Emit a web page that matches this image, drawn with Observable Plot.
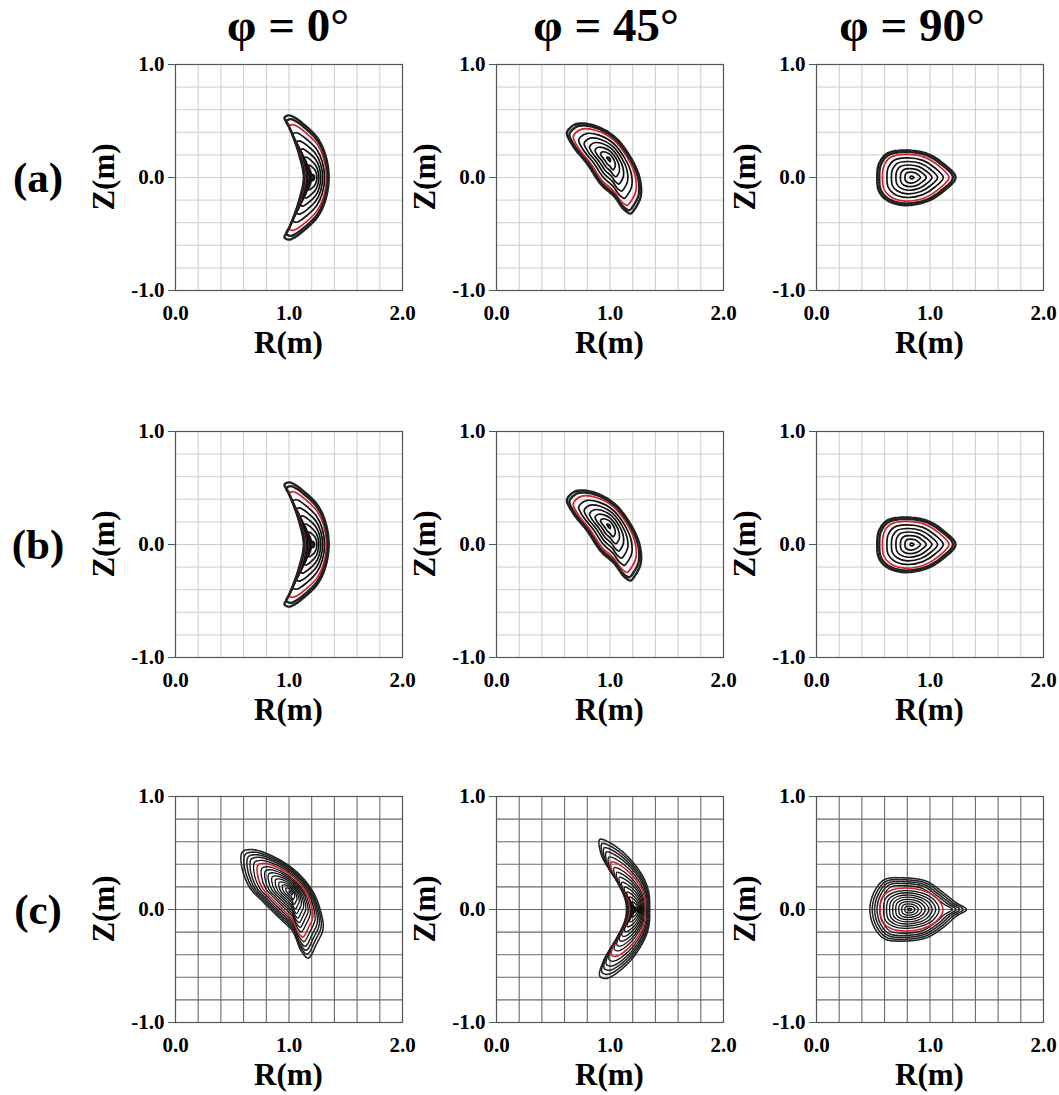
<!DOCTYPE html>
<html><head><meta charset="utf-8">
<script src="https://cdn.jsdelivr.net/npm/d3@7"></script>
<script src="https://cdn.jsdelivr.net/npm/@observablehq/plot@0.6"></script>
<style>
body{margin:0;background:#fff;}
#fig{position:relative;width:1059px;height:1095px;background:#fff;font-family:"Liberation Serif","Times New Roman",serif;font-weight:bold;color:#000;overflow:hidden}
.lbl{position:absolute;white-space:nowrap;line-height:1;transform:translate(-50%,-50%)}
.pn{position:absolute}
</style></head><body><div id="fig"></div>
<script>
// ---------- text ----------
const columnTitles = ["φ = 0°", "φ = 45°", "φ = 90°"];
const rowLabels = ["(a)", "(b)", "(c)"];
const xLabel = "R(m)";
const yLabel = "Z(m)";
const xTicks = [0, 1, 2];
const yTicks = [-1, 0, 1];
const gridR = [0.2, 0.4, 0.6, 0.8, 1.0, 1.2, 1.4, 1.6, 1.8];
const gridZ = [-0.8, -0.6, -0.4, -0.2, 0, 0.2, 0.4, 0.6, 0.8];

// ---------- last closed surfaces, rows (a)/(b) ----------
const ab0R = [0.96, 1.00, 1.05, 1.13, 1.25, 1.32, 1.35, 1.32, 1.25, 1.13, 1.05, 1.00, 0.96, 0.99, 1.04, 1.09, 1.13, 1.09, 1.04, 0.99];
const ab0Z = [0.53, 0.55, 0.53, 0.47, 0.35, 0.20, 0.00, -0.20, -0.35, -0.47, -0.53, -0.55, -0.53, -0.47, -0.35, -0.20, 0.00, 0.20, 0.35, 0.47];
const ab0Axis = [1.22, 0.0];

const ab1R = [0.64, 0.71, 0.86, 1.04, 1.18, 1.26, 1.27, 1.21, 1.18, 1.12, 1.04, 0.92, 0.80, 0.68, 0.62];
const ab1Z = [0.43, 0.475, 0.46, 0.36, 0.18, 0.00, -0.17, -0.29, -0.32, -0.28, -0.17, -0.06, 0.12, 0.27, 0.39];
const ab1Axis = [0.99, 0.165];

const ab2R = [0.535, 0.55, 0.62, 0.77, 0.975, 1.12, 1.225, 1.12, 0.975, 0.77, 0.62, 0.55];
const ab2Z = [0.00, 0.12, 0.21, 0.24, 0.21, 0.12, 0.00, -0.12, -0.21, -0.245, -0.20, -0.12];
const ab2Axis = [0.84, 0.0];

// ---------- row (c) ----------
const c0R = [0.59, 0.68, 0.86, 1.06, 1.21, 1.28, 1.30, 1.24, 1.17, 1.11, 1.03, 0.92, 0.77, 0.65, 0.58];
const c0Z = [0.51, 0.53, 0.47, 0.34, 0.16, -0.02, -0.17, -0.31, -0.43, -0.37, -0.19, -0.08, 0.07, 0.20, 0.40];
const c0Axis = [1.02, 0.15];

const c1R = [0.91, 1.00, 1.145, 1.28, 1.34, 1.35, 1.34, 1.28, 1.145, 0.97, 0.91, 0.94, 1.06, 1.13, 1.145, 1.13, 1.06, 0.925];
const c1Z = [0.62, 0.59, 0.48, 0.31, 0.16, 0.00, -0.16, -0.31, -0.49, -0.61, -0.59, -0.46, -0.25, -0.10, 0.00, 0.10, 0.25, 0.48];
const c1Axis = [1.23, 0.0];

const c2R = [0.47, 0.51, 0.60, 0.76, 0.97, 1.115, 1.23, 1.32, 1.23, 1.115, 0.97, 0.76, 0.60, 0.51];
const c2Z = [0.00, 0.16, 0.265, 0.28, 0.25, 0.15, 0.06, 0.00, -0.06, -0.16, -0.25, -0.28, -0.26, -0.16];
const c2Axis = [0.82, 0.0];
// red (core) surface of panel (c) φ=90°, which is rounder than its pointed edge
const c2CoreR = [0.56, 0.58, 0.66, 0.78, 0.93, 1.05, 1.115, 1.05, 0.93, 0.78, 0.66, 0.58];
const c2CoreZ = [0.00, 0.11, 0.17, 0.19, 0.17, 0.11, 0.00, -0.11, -0.17, -0.19, -0.17, -0.11];

// flux-surface levels (fraction of the last closed surface)
const levelsAB = [0.05, 0.2, 0.33, 0.46, 0.59, 0.72, 0.85, 0.94, 1.0];
const redLevelAB = 0.85;
const edgeFromAB = 0.94;
const levelsC = [0.04, 0.11, 0.18, 0.25, 0.32, 0.39, 0.46, 0.53, 0.6, 0.68, 0.75, 0.82, 0.88, 0.94, 1.0];
const redLevelC = 0.68;
const edgeFromC = 0.82;

// ---------- layout ----------
const plotLefts = [175, 496, 816];
const plotTops = [64, 431, 796];
const PW = 227, PH = 226;
const ML = 60, MR = 20, MT = 15, MB = 40;

const shapes = [
  [[ab0R, ab0Z, ab0Axis], [ab1R, ab1Z, ab1Axis], [ab2R, ab2Z, ab2Axis]],
  [[ab0R, ab0Z, ab0Axis], [ab1R, ab1Z, ab1Axis], [ab2R, ab2Z, ab2Axis]],
  [[c0R, c0Z, c0Axis], [c1R, c1Z, c1Axis], [c2R, c2Z, c2Axis, c2CoreR, c2CoreZ]]
];

const fig = document.getElementById("fig");
function label(text, x, y, size, rot) {
  const d = document.createElement("div");
  d.className = "lbl";
  d.textContent = text;
  d.style.left = x + "px";
  d.style.top = y + "px";
  d.style.fontSize = size + "px";
  if (rot) d.style.transform = "translate(-50%,-50%) rotate(-90deg)";
  fig.appendChild(d);
}

const fmt = d => d.toFixed(1);

function makePanel(shape, dark) {
  const [bR, bZ, ax, coreR, coreZ] = shape;
  const levels = dark ? levelsC : levelsAB;
  const red = dark ? redLevelC : redLevelAB;
  const edgeFrom = dark ? edgeFromC : edgeFromAB;
  const pts = [];
  levels.forEach(s => {
    if (coreR && s <= red) {
      const k = s / red;
      coreR.forEach((r, j) => pts.push({R: ax[0] + k * (r - ax[0]), Z: ax[1] + k * (coreZ[j] - ax[1]), level: s}));
    } else {
      bR.forEach((r, j) => pts.push({R: ax[0] + s * (r - ax[0]), Z: ax[1] + s * (bZ[j] - ax[1]), level: s}));
    }
  });
  const gridStroke = dark ? "#6a6a6a" : "#cdcdcd";
  const marks = [
    Plot.gridX(gridR, {stroke: gridStroke, strokeOpacity: 1, strokeWidth: dark ? 1.1 : 1}),
    Plot.gridY(gridZ, {stroke: gridStroke, strokeOpacity: 1, strokeWidth: dark ? 1.1 : 1}),
    Plot.frame({stroke: "#555", strokeWidth: 1.2}),
    Plot.axisX(xTicks, {tickSize: 0, tickPadding: 15, tickFormat: fmt, label: null}),
    Plot.axisY(yTicks, {tickSize: 7, tickPadding: 4, tickFormat: fmt, stroke: "#555", label: null}),
    Plot.line(pts.filter(d => d.level < edgeFrom && d.level !== red), {x: "R", y: "Z", z: "level", curve: "catmull-rom-closed", stroke: "#111", strokeWidth: dark ? 1.3 : 1.7}),
    Plot.line(pts.filter(d => d.level === red), {x: "R", y: "Z", z: "level", curve: "catmull-rom-closed", stroke: "#d3222a", strokeWidth: dark ? 1.6 : 1.7}),
    Plot.line(pts.filter(d => d.level >= edgeFrom), {x: "R", y: "Z", z: "level", curve: "catmull-rom-closed", stroke: "#222", strokeWidth: dark ? 1.6 : 2.4, strokeDasharray: dark ? "1.5,1" : "3,0.8"})
  ];
  return Plot.plot({
    width: PW + ML + MR, height: PH + MT + MB,
    marginLeft: ML, marginRight: MR, marginTop: MT, marginBottom: MB,
    x: {domain: [0, 2]}, y: {domain: [-1, 1]},
    style: {fontFamily: "'Liberation Serif','Times New Roman',serif", fontSize: "21px", fontWeight: "bold", background: "transparent", color: "#000"},
    marks
  });
}

for (let r = 0; r < 3; r++) {
  for (let c = 0; c < 3; c++) {
    const p = makePanel(shapes[r][c], r === 2);
    p.classList.add("pn");
    p.style.left = (plotLefts[c] - ML) + "px";
    p.style.top = (plotTops[r] - MT) + "px";
    fig.appendChild(p);
    label(xLabel, plotLefts[c] + PW / 2, plotTops[r] + PH + 52, 31);
    label(yLabel, plotLefts[c] - 72, plotTops[r] + PH / 2, 31, true);
  }
  label(rowLabels[r], 38, plotTops[r] + PH / 2, 43);
}
const titleX = [288, 606, 912];
columnTitles.forEach((t, i) => label(t, titleX[i], 25, 47));
</script></body></html>
